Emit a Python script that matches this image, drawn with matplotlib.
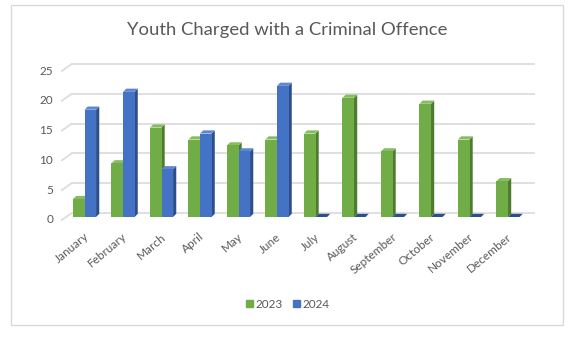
import matplotlib.pyplot as plt
from matplotlib.patches import Polygon, Rectangle, Patch

months = ['January', 'February', 'March', 'April', 'May', 'June', 'July',
          'August', 'September', 'October', 'November', 'December']
charged_2023 = [3, 9, 15, 13, 12, 13, 14, 20, 11, 19, 13, 6]
charged_2024 = [18, 21, 8, 14, 11, 22, 0, 0, 0, 0, 0, 0]
y_ticks = [0, 5, 10, 15, 20, 25]

# front, side and top face colours for each series
green = ('#70ad47', '#4d7b2f', '#86bd5f')
blue = ('#4472c4', '#2c4f8c', '#5f87d0')

plt.rcParams['font.family'] = ['Lato', 'DejaVu Sans']

fig = plt.figure(figsize=(5.71, 3.39), dpi=100)
ax = fig.add_axes([0.1143, 0.3599, 0.8091, 0.4395])
ax.set_xlim(-0.5, 11.5)
ax.set_ylim(0, 25)
ax.axis('off')

# pixel -> data unit helpers for the fake 3d depth
px_x = 462 / 12.0
px_y = 149 / 25.0


def dx(p):
    return p / px_x


def dy(p):
    return p / px_y


# floor / back wall gridlines with a short slanted stub on the left
for v in y_ticks:
    ax.plot([-0.5 + dx(6.5), 11.5 + dx(6.5)], [v + dy(4), v + dy(4)],
            color='#dddddd', lw=1.3, zorder=0, clip_on=False)
    ax.plot([-0.5 - dx(3.5), -0.5 + dx(6.5)], [v - dy(3), v + dy(4)],
            color='#dddddd', lw=1.3, zorder=0, clip_on=False)
    ax.text(-0.5 - dx(12), v - dy(3), str(v), ha='right', va='center',
            fontsize=8.5, color='#595959')

bw = 0.3
depth_x, depth_y = dx(3.2), dy(3.2)


def bar3d(x0, v, cols, z):
    front, side, top = cols
    x1 = x0 + bw
    ax.add_patch(Polygon([(x1, 0), (x1, v), (x1 + depth_x, v + depth_y),
                          (x1 + depth_x, depth_y)], closed=True,
                         facecolor=side, edgecolor='none', zorder=z,
                         clip_on=False))
    ax.add_patch(Polygon([(x0, v), (x1, v), (x1 + depth_x, v + depth_y),
                          (x0 + depth_x, v + depth_y)], closed=True,
                         facecolor=top if v > 0 else side, edgecolor='none',
                         zorder=z, clip_on=False))
    if v > 0:
        ax.bar(x0, v, width=bw, align='edge', color=front, zorder=z,
               clip_on=False)


for i in range(len(months)):
    bar3d(i - bw, charged_2023[i], green, 2 + i * 2)
    bar3d(i, charged_2024[i], blue, 3 + i * 2)

for i, m in enumerate(months):
    ax.text(i - dx(1), -dy(14), m, rotation=40, ha='right', va='top',
            rotation_mode='anchor', fontsize=8.5, color='#595959')

fig.text(0.503, 0.911, 'Youth Charged with a Criminal Offence',
         ha='center', va='center', fontsize=13.3, color='#595959')

handles = [Patch(color=green[0], label='2023'), Patch(color=blue[0], label='2024')]
fig.legend(handles=handles, loc='center', bbox_to_anchor=(0.504, 0.103),
           ncol=2, frameon=False, fontsize=8.5, handlelength=0.6,
           handleheight=0.6, handletextpad=0.25, columnspacing=0.8,
           labelcolor='#595959')

fig.patches.append(Rectangle((0.0193, 0.0413), 0.9667, 0.9437,
                             transform=fig.transFigure, fill=False,
                             edgecolor='#d9d9d9', lw=1))

fig.savefig('out.png', dpi=100)
